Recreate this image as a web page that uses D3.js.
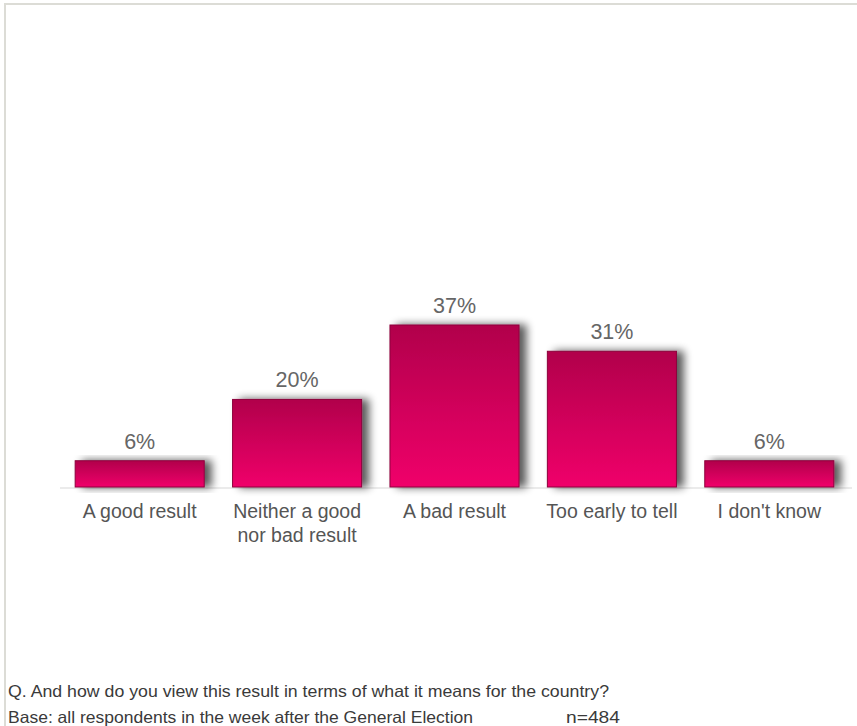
<!DOCTYPE html>
<html><head><meta charset="utf-8">
<script src="https://cdn.jsdelivr.net/npm/d3@7"></script>
<style>body{margin:0;background:#fff;}svg{display:block;}</style>
</head><body>
<script>
const categories = ["A good result", "Neither a good|nor bad result", "A bad result", "Too early to tell", "I don't know"];
const values = [6, 20, 37, 31, 6];
const footerQuestion = "Q. And how do you view this result in terms of what it means for the country?";
const footerBase = "Base: all respondents in the week after the General Election";
const footerN = "n=484";

const W = 857, H = 726;
const svg = d3.select("body").append("svg").attr("width", W).attr("height", H);
const defs = svg.append("defs");
const grad = defs.append("linearGradient").attr("id", "barGrad").attr("x1", 0).attr("y1", 0).attr("x2", 0).attr("y2", 1);
grad.append("stop").attr("offset", "0%").attr("stop-color", "#b1004b");
grad.append("stop").attr("offset", "100%").attr("stop-color", "#f0006a");
const f = defs.append("filter").attr("id", "shadow").attr("x", "-10%").attr("y", "-20%").attr("width", "130%").attr("height", "140%");
f.append("feGaussianBlur").attr("in", "SourceAlpha").attr("stdDeviation", 4).attr("result", "b");
f.append("feOffset").attr("in", "b").attr("dx", 7).attr("dy", 0).attr("result", "o");
f.append("feComponentTransfer").attr("in", "o").attr("result", "oa").append("feFuncA").attr("type", "linear").attr("slope", 0.65);
const m = f.append("feMerge");
m.append("feMergeNode").attr("in", "oa");
m.append("feMergeNode").attr("in", "SourceGraphic");

// frame
svg.append("line").attr("x1", 4).attr("x2", W).attr("y1", 4).attr("y2", 4).attr("stroke", "#dcdcd6").attr("stroke-width", 2);
svg.append("line").attr("x1", 5).attr("x2", 5).attr("y1", 4).attr("y2", H).attr("stroke", "#dcdcd6").attr("stroke-width", 2);

const baseY = 487;
const x = d3.scaleBand().domain(categories).range([61, 848]).paddingInner(0.18).paddingOuter(0.09);
const y = d3.scaleLinear().domain([0, 37]).range([baseY, 325]);

svg.append("line").attr("x1", 60).attr("x2", 852).attr("y1", baseY + 1).attr("y2", baseY + 1)
  .attr("stroke", "#e4e4e4").attr("stroke-width", 1.5);

svg.selectAll("rect.bar").data(values).join("rect").attr("class", "bar")
  .attr("x", (d, i) => x(categories[i]))
  .attr("y", d => y(d))
  .attr("width", x.bandwidth())
  .attr("height", d => baseY - y(d))
  .attr("fill", "url(#barGrad)")
  .attr("stroke", "#8c003c").attr("stroke-width", 1)
  .attr("filter", "url(#shadow)");

svg.selectAll("text.val").data(values).join("text").attr("class", "val")
  .attr("x", (d, i) => x(categories[i]) + x.bandwidth() / 2)
  .attr("y", d => y(d) - 12)
  .attr("text-anchor", "middle")
  .attr("font-family", "Liberation Sans, Arial, sans-serif")
  .attr("font-size", 21.5).attr("fill", "#666")
  .text(d => d + "%");

const cat = svg.selectAll("text.cat").data(categories).join("text").attr("class", "cat")
  .attr("text-anchor", "middle")
  .attr("font-family", "Liberation Sans, Arial, sans-serif")
  .attr("font-size", 19.5).attr("fill", "#555");
cat.each(function (d) {
  const t = d3.select(this);
  d.split("|").forEach((line, j) => {
    t.append("tspan").attr("x", x(d) + x.bandwidth() / 2).attr("y", 518 + j * 24).text(line);
  });
});

const ff = "Liberation Sans Narrow, Liberation Sans, Arial, sans-serif";
svg.append("text").attr("x", 8).attr("y", 697).attr("font-family", ff).attr("font-size", 16.5)
  .attr("fill", "#3a3a3a").attr("textLength", 601).attr("lengthAdjust", "spacingAndGlyphs").text(footerQuestion);
svg.append("text").attr("x", 8).attr("y", 723).attr("font-family", ff).attr("font-size", 16.5)
  .attr("fill", "#3a3a3a").attr("textLength", 465).attr("lengthAdjust", "spacingAndGlyphs").text(footerBase);
svg.append("text").attr("x", 566).attr("y", 723).attr("font-family", ff).attr("font-size", 16.5)
  .attr("fill", "#3a3a3a").attr("textLength", 54).attr("lengthAdjust", "spacingAndGlyphs").text(footerN);
</script>
</body></html>
